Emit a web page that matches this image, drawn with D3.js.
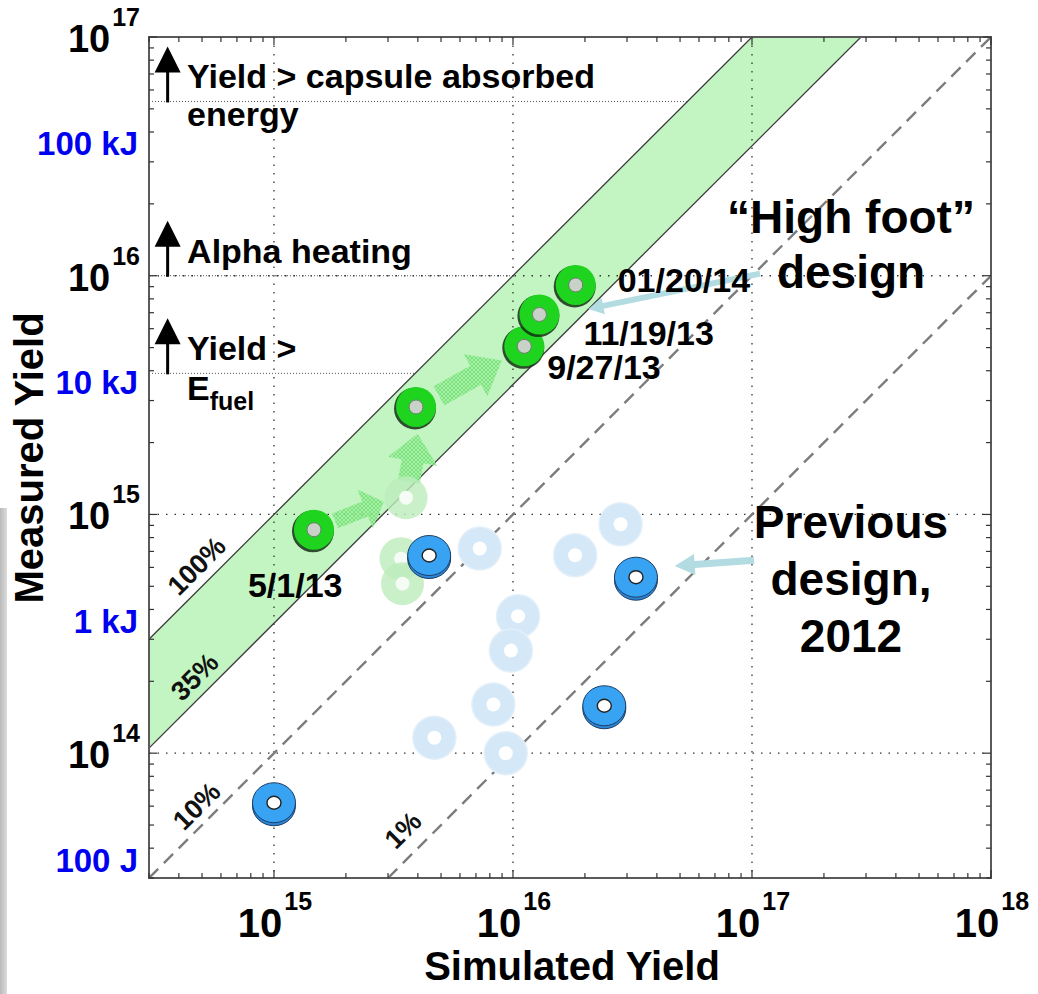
<!DOCTYPE html>
<html><head><meta charset="utf-8">
<script src="https://cdn.jsdelivr.net/npm/d3@7"></script>
<style>
html,body{margin:0;padding:0;background:#fff;}
svg{display:block;font-family:"Liberation Sans",Arial,Helvetica,sans-serif;font-weight:bold;}
</style></head><body>
<svg id="chart" width="1038" height="994"></svg>
<script>
/* Data */
const xDomain=[3e14,1e18];
const yDomain=[3e13,1e17];
const xMajor=[1e15,1e16,1e17,1e18];
const yMajor=[1e14,1e15,1e16,1e17];
const energyJ=[100,1e3,1e4,1e5];
const energyText=["100 J","1 kJ","10 kJ","100 kJ"];
const neutronsPerJ=1/(17.6e6*1.602e-19);

const highFootSim=[1.47e15,3.93e15,1.115e16,1.29e16,1.83e16];
const highFootMeas=[8.63e14,2.82e15,5.06e15,6.88e15,9.15e15];
const highFootDates=["5/1/13","","9/27/13","11/19/13","01/20/14"];
const fadedGreenSim=[3.57e15,3.4e15,3.45e15];
const fadedGreenMeas=[1.175e15,6.53e14,5.13e14];
const prevSim=[4.46e15,3.27e16,2.41e16,1.0e15];
const prevMeas=[6.73e14,5.46e14,1.58e14,6.2e13];
const fadedPrevSim=[7.26e15,1.82e16,2.82e16,1.05e16,9.8e15,8.28e15,4.69e15,9.33e15];
const fadedPrevMeas=[7.2e14,6.75e14,9.1e14,3.75e14,2.69e14,1.6e14,1.16e14,1.0e14];

const bandRatios=[1,0.35];
const dashedRatios=[0.1,0.01];
const ratioText=["100%","35%","10%","1%"];
const ratioValues=[1,0.35,0.1,0.01];
const ratioLabelSim=[5.37e14,5.27e14,5.34e14,4.06e15];

const thresholdYield=[5.37e16,1e16,3.9e15];
const thresholdLines=[["Yield > capsule absorbed","energy"],["Alpha heating"],["Yield >"]];

// hatched progress arrows [tailSim,tailMeas,tipSim,tipMeas]
const progressArrows=[[1.80e15,9.4e14,2.88e15,1.13e15],[3.67e15,1.37e15,3.99e15,2.18e15],[4.90e15,3.14e15,8.98e15,4.41e15]];
// pointer arrows from the big labels
const pointerArrows=[[1.08e17,1.02e16,2.07e16,7.26e15],[1.02e17,6.43e14,4.75e16,6.08e14]];

/* Layout (pixels) */
const M={left:149,top:37,right:991,bottom:878};
const dateOffset=[[-66,67],[0,0],[23,33],[44,31],[42,7]];
const ratioOffset=[18,18,17,23];
const arrowSize=[[16,42,20],[22,50,28],[22,48,30]];
const pointerSize=[[6,17,15],[7,21,20]];

const svg=d3.select("#chart");
const xs=d3.scaleLog().domain(xDomain).range([M.left,M.right]);
const ys=d3.scaleLog().domain(yDomain).range([M.bottom,M.top]);
const defs=svg.append("defs");

/* slide strip on the left */
const grad=defs.append("linearGradient").attr("id","strip").attr("x1","0").attr("x2","1");
grad.append("stop").attr("offset","0").attr("stop-color","#b9b9b9");
grad.append("stop").attr("offset","1").attr("stop-color","#dcdcdc");
svg.append("rect").attr("x",0).attr("y",508).attr("width",7).attr("height",486).attr("fill","url(#strip)");

const hatch=defs.append("pattern").attr("id","hatch").attr("width",4).attr("height",4).attr("patternUnits","userSpaceOnUse");
hatch.append("rect").attr("width",4).attr("height",4).attr("fill","#6fe06f");
hatch.append("path").attr("d","M0,0L4,4M4,0L0,4").attr("stroke","#b2f0b2").attr("stroke-width",0.8);

defs.append("clipPath").attr("id","plotClip").append("rect")
  .attr("x",M.left).attr("y",M.top).attr("width",M.right-M.left).attr("height",M.bottom-M.top);

const plot=svg.append("g").attr("clip-path","url(#plotClip)");

/* ratio line helper */
function ratioSeg(r){
  const x0=Math.max(xDomain[0],yDomain[0]/r), x1=Math.min(xDomain[1],yDomain[1]/r);
  return [[xs(x0),ys(r*x0)],[xs(x1),ys(r*x1)]];
}

/* green band */
const up=ratioSeg(bandRatios[0]), lo=ratioSeg(bandRatios[1]);
plot.append("path").attr("d",d3.line()([up[0],up[1],lo[1],lo[0]])+"Z").attr("fill","#c2f5c2");

/* grid */
plot.selectAll(".gx").data(xMajor).enter().append("line")
  .attr("x1",d=>xs(d)).attr("x2",d=>xs(d)).attr("y1",M.top).attr("y2",M.bottom)
  .attr("stroke","#333").attr("stroke-width",1.3).attr("stroke-dasharray","1.5,7");
plot.selectAll(".gy").data(yMajor).enter().append("line")
  .attr("y1",d=>ys(d)).attr("y2",d=>ys(d)).attr("x1",M.left).attr("x2",M.right)
  .attr("stroke","#333").attr("stroke-width",1.3).attr("stroke-dasharray","1.5,7");

/* threshold dotted lines, ending on the 100% line */
plot.selectAll(".thr").data(thresholdYield).enter().append("line")
  .attr("x1",M.left).attr("x2",d=>xs(d)).attr("y1",d=>ys(d)).attr("y2",d=>ys(d))
  .attr("stroke","#555").attr("stroke-width",1).attr("stroke-dasharray","1,2");

/* band edges and dashed ratio lines */
bandRatios.forEach(r=>{
  const s=ratioSeg(r);
  plot.append("path").attr("d",d3.line()(s)).attr("stroke","#3c3c3c").attr("stroke-width",1.3).attr("fill","none");
});
dashedRatios.forEach(r=>{
  const s=ratioSeg(r);
  plot.append("path").attr("d",d3.line()(s)).attr("stroke","#7c7c7c").attr("stroke-width",2.4)
    .attr("stroke-dasharray","13,8").attr("fill","none");
});

/* ratio labels */
ratioValues.forEach((r,i)=>{
  const s=ratioSeg(r);
  const a=Math.atan2(s[1][1]-s[0][1],s[1][0]-s[0][0]);
  const px=xs(ratioLabelSim[i]), py=ys(r*ratioLabelSim[i]);
  const cx=px+Math.sin(a)*ratioOffset[i], cy=py-Math.cos(a)*ratioOffset[i];
  svg.append("text").attr("transform",`translate(${cx},${cy}) rotate(${a*180/Math.PI})`)
    .attr("text-anchor","middle").attr("dominant-baseline","central")
    .attr("font-size",27).attr("fill","#111").text(ratioText[i]);
});

/* block arrows */
function blockArrow(p0,p1,w,hw,hl){
  const dx=p1[0]-p0[0], dy=p1[1]-p0[1], L=Math.hypot(dx,dy);
  const ux=dx/L, uy=dy/L, nx=-uy, ny=ux;
  const bx=p1[0]-ux*hl, by=p1[1]-uy*hl;
  return d3.line()([
    [p0[0]+nx*w/2,p0[1]+ny*w/2],[bx+nx*w/2,by+ny*w/2],[bx+nx*hw/2,by+ny*hw/2],p1,
    [bx-nx*hw/2,by-ny*hw/2],[bx-nx*w/2,by-ny*w/2],[p0[0]-nx*w/2,p0[1]-ny*w/2]])+"Z";
}
progressArrows.forEach((a,i)=>{
  plot.append("path").attr("d",blockArrow([xs(a[0]),ys(a[1])],[xs(a[2]),ys(a[3])],...arrowSize[i]))
    .attr("fill","url(#hatch)").attr("opacity",0.85);
});

/* markers */
const lightBlue=plot.append("g");
fadedPrevSim.forEach((s,i)=>{
  const cx=xs(s), cy=ys(fadedPrevMeas[i]);
  lightBlue.append("circle").attr("cx",cx).attr("cy",cy).attr("r",21.5).attr("fill","#d4e8f7").attr("stroke","#e3eff9").attr("stroke-width",1.5);
  lightBlue.append("circle").attr("cx",cx).attr("cy",cy).attr("r",7).attr("fill","#fff");
});
const fadedGreen=plot.append("g");
fadedGreenSim.forEach((s,i)=>{
  const cx=xs(s), cy=ys(fadedGreenMeas[i]);
  fadedGreen.append("circle").attr("cx",cx).attr("cy",cy).attr("r",21.5).attr("fill","#bdecbd").attr("opacity",0.8);
  fadedGreen.append("circle").attr("cx",cx).attr("cy",cy).attr("r",7).attr("fill","#f5fbf5");
});
const blue=plot.append("g");
prevSim.forEach((s,i)=>{
  const cx=xs(s), cy=ys(prevMeas[i]);
  blue.append("ellipse").attr("cx",cx).attr("cy",cy+3).attr("rx",21.5).attr("ry",20).attr("fill","#2b86d6").attr("stroke","#1d3d63").attr("stroke-width",1);
  blue.append("ellipse").attr("cx",cx).attr("cy",cy).attr("rx",21.5).attr("ry",20).attr("fill","#39a3f3").attr("stroke","#1d3d63").attr("stroke-width",1);
  blue.append("ellipse").attr("cx",cx).attr("cy",cy).attr("rx",7).attr("ry",6.5).attr("fill","#fff").attr("stroke","#222").attr("stroke-width",1.4);
});
const green=plot.append("g");
highFootSim.forEach((s,i)=>{
  const cx=xs(s), cy=ys(highFootMeas[i]);
  green.append("circle").attr("cx",cx-1).attr("cy",cy+1.5).attr("r",21).attr("fill","#142e14").attr("opacity",0.85);
  green.append("circle").attr("cx",cx).attr("cy",cy).attr("r",20).attr("fill","#1fd41f");
  green.append("circle").attr("cx",cx).attr("cy",cy).attr("r",7).attr("fill","#c9d2c9").attr("stroke","#6f7d6f").attr("stroke-width",1);
});

/* pointer arrows */
pointerArrows.forEach((a,i)=>{
  svg.append("path").attr("d",blockArrow([xs(a[0]),ys(a[1])],[xs(a[2]),ys(a[3])],...pointerSize[i]))
    .attr("fill","#b2dce2");
});

/* frame + ticks */
svg.append("rect").attr("x",M.left).attr("y",M.top).attr("width",M.right-M.left).attr("height",M.bottom-M.top)
  .attr("fill","none").attr("stroke","#5a5a5a").attr("stroke-width",2);
function logTicks(dom){
  const out=[];
  for(let e=Math.floor(Math.log10(dom[0]));e<=Math.ceil(Math.log10(dom[1]));e++)
    for(let m=1;m<10;m++){const v=m*Math.pow(10,e); if(v>=dom[0]*0.999&&v<=dom[1]*1.001) out.push({v,major:m===1});}
  return out;
}
const tk=svg.append("g").attr("stroke","#333").attr("stroke-width",1.2);
logTicks(xDomain).forEach(t=>{
  const x=xs(t.v), l=t.major?8:5;
  tk.append("line").attr("x1",x).attr("x2",x).attr("y1",M.bottom).attr("y2",M.bottom-l);
  tk.append("line").attr("x1",x).attr("x2",x).attr("y1",M.top).attr("y2",M.top+l);
});
logTicks(yDomain).forEach(t=>{
  const y=ys(t.v), l=t.major?8:5;
  tk.append("line").attr("y1",y).attr("y2",y).attr("x1",M.left).attr("x2",M.left+l);
  tk.append("line").attr("y1",y).attr("y2",y).attr("x1",M.right).attr("x2",M.right-l);
});

/* tick labels */
xMajor.forEach(v=>{
  const t=svg.append("text").attr("x",xs(v)+1).attr("y",937).attr("text-anchor","middle").attr("fill","#000");
  t.append("tspan").attr("font-size",40).text("10");
  t.append("tspan").attr("font-size",25).attr("dx",2).attr("dy",-27).text(Math.round(Math.log10(v)));
});
yMajor.forEach(v=>{
  const t=svg.append("text").attr("x",140).attr("y",ys(v)+15).attr("text-anchor","end").attr("fill","#000");
  t.append("tspan").attr("font-size",38).text("10");
  t.append("tspan").attr("font-size",25).attr("dx",2).attr("dy",-26).text(Math.round(Math.log10(v)));
});
energyJ.forEach((j,i)=>{
  svg.append("text").attr("x",138).attr("y",ys(j*neutronsPerJ)+11).attr("text-anchor","end")
    .attr("font-size",33).attr("fill","#0000f0").text(energyText[i]);
});

/* axis titles */
svg.append("text").attr("x",572).attr("y",980).attr("text-anchor","middle").attr("font-size",40).text("Simulated Yield");
svg.append("text").attr("transform","translate(43,458) rotate(-90)").attr("text-anchor","middle").attr("font-size",40).text("Measured Yield");

/* threshold arrows and texts */
const arrowX=xs(3.59e14), textX=xs(4.33e14);
thresholdYield.forEach((v,i)=>{
  const y=ys(v);
  svg.append("line").attr("x1",arrowX).attr("x2",arrowX).attr("y1",y+1).attr("y2",y-34).attr("stroke","#000").attr("stroke-width",3);
  svg.append("path").attr("d",d3.line()([[arrowX,y-55],[arrowX-13,y-29],[arrowX+13,y-29]])+"Z").attr("fill","#000");
  thresholdLines[i].forEach((s,k)=>{
    svg.append("text").attr("x",textX).attr("y",y-13+k*38).attr("font-size",34).text(s);
  });
});
const ef=svg.append("text").attr("x",textX).attr("y",ys(thresholdYield[2])+27).attr("font-size",34);
ef.append("tspan").text("E");
ef.append("tspan").attr("font-size",25).attr("dy",10).text("fuel");

/* date labels */
highFootSim.forEach((s,i)=>{
  if(!highFootDates[i]) return;
  svg.append("text").attr("x",xs(s)+dateOffset[i][0]).attr("y",ys(highFootMeas[i])+dateOffset[i][1])
    .attr("font-size",34).text(highFootDates[i]);
});

/* design labels */
const bigLabels=[{lines:["\u201cHigh foot\u201d","design"],y:233},{lines:["Previous","design,","2012"],y:538}];
bigLabels.forEach(b=>{
  b.lines.forEach((s,k)=>{
    svg.append("text").attr("x",851).attr("y",b.y+k*(b.lines.length===2?55:57)).attr("text-anchor","middle")
      .attr("font-size",46).text(s);
  });
});
</script></body></html>
